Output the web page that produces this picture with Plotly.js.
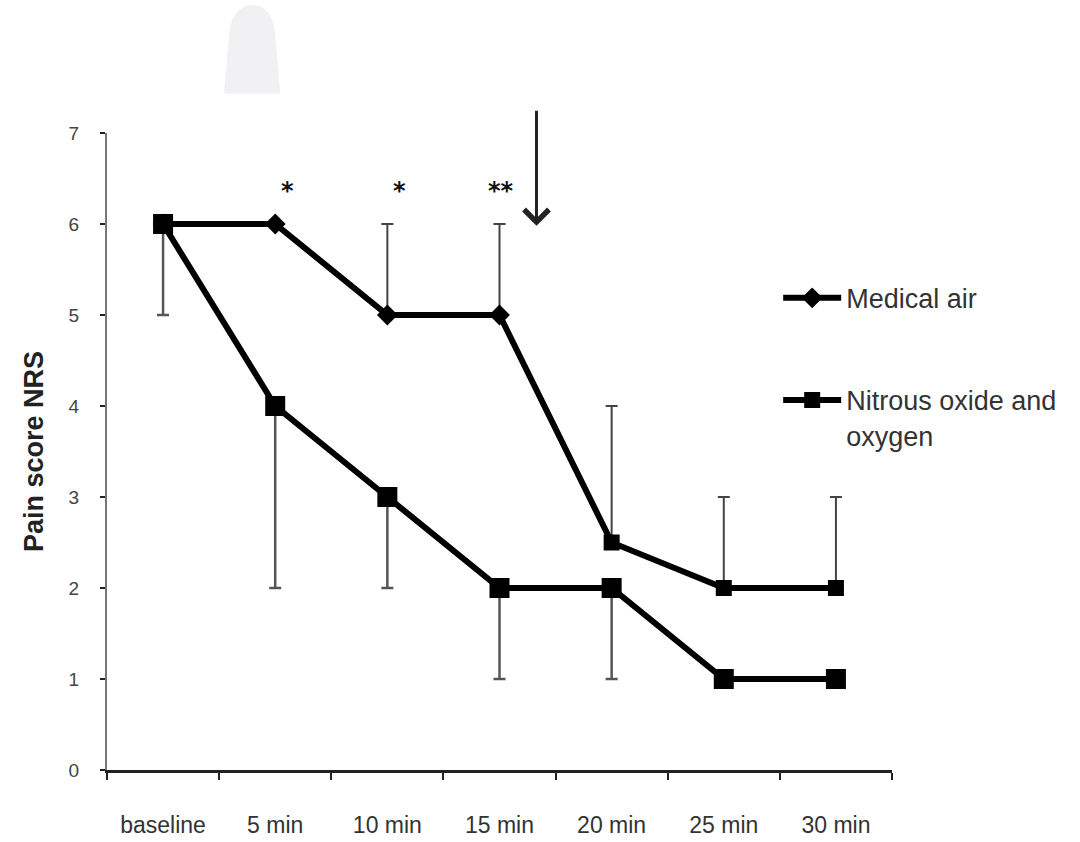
<!DOCTYPE html>
<html>
<head>
<meta charset="utf-8">
<script src="https://cdn.plot.ly/plotly-3.0.1.min.js"></script>
<style>
html,body{margin:0;padding:0;background:#fff;}
#chart{width:1080px;height:842px;}
</style>
</head>
<body>
<div id="chart"></div>
<script>
const categories = ["baseline", "5 min", "10 min", "15 min", "20 min", "25 min", "30 min"];
const medicalAir = [6, 6, 5, 5, 2.5, 2, 2];
const medicalAirErrUp = [0, 0, 1, 1, 1.5, 1, 1];
const nitrous = [6, 4, 3, 2, 2, 1, 1];
const nitrousErrDown = [1, 2, 1, 1, 1, 0, 0];
const medicalAirSymbols = ["diamond", "diamond", "diamond", "diamond", "square", "square", "square"];
const yTicks = [0, 1, 2, 3, 4, 5, 6, 7];
const significance = [
  {cat: "5 min", text: "*"},
  {cat: "10 min", text: "*"},
  {cat: "15 min", text: "**"}
];

const sans = "Liberation Sans, Arial, sans-serif";

const traces = [
  {
    x: categories, y: medicalAir, name: "Medical air", type: "scatter", mode: "lines+markers",
    legendgroup: "a",
    line: {color: "#000", width: 6},
    marker: {symbol: medicalAirSymbols, size: 16, color: "#000"},
    error_y: {type: "data", symmetric: false, array: medicalAirErrUp, arrayminus: medicalAirErrUp.map(() => 0),
              color: "#444", thickness: 2, width: 6},
    cliponaxis: false
  },
  {
    x: categories, y: nitrous, name: "Nitrous oxide and<br>oxygen", type: "scatter", mode: "lines+markers",
    legendgroup: "b",
    line: {color: "#000", width: 6},
    marker: {symbol: "square", size: 20, color: "#000"},
    error_y: {type: "data", symmetric: false, array: nitrousErrDown.map(() => 0), arrayminus: nitrousErrDown,
              color: "#555", thickness: 2.5, width: 6},
    cliponaxis: false
  }
];

const annotations = significance.map(s => ({
  x: s.cat, y: 6.36, xref: "x", yref: "y", text: "<b>" + s.text + "</b>", showarrow: false,
  xshift: s.text === "*" ? 12 : 1,
  font: {family: "DejaVu Sans, sans-serif", size: 24, color: "#111"}
}));
annotations.push({
  x: 3.33, y: 5.98, xref: "x", yref: "y", ax: 3.33, ay: 7.26, axref: "x", ayref: "y",
  showarrow: true, arrowhead: 4, arrowsize: 1.6, arrowwidth: 3, arrowcolor: "#222", text: ""
});

const layout = {
  width: 1080, height: 842,
  paper_bgcolor: "#fff", plot_bgcolor: "#fff",
  margin: {l: 107, r: 188, t: 133, b: 72},
  showlegend: true,
  legend: {
    x: 0.855, y: 0.779, xanchor: "left", yanchor: "top",
    itemwidth: 58, valign: "top",
    font: {family: sans, size: 27, color: "#333"},
    tracegroupgap: 64, bgcolor: "rgba(0,0,0,0)"
  },
  xaxis: {
    type: "category", categoryorder: "array", categoryarray: categories,
    range: [-0.5, 6.5], tickson: "boundaries",
    showline: true, linecolor: "#222", linewidth: 3,
    ticks: "outside", ticklen: 7, tickwidth: 2, tickcolor: "#222",
    showgrid: false, zeroline: false,
    ticklabelstandoff: 32,
    tickfont: {family: sans, size: 23, color: "#333"}
  },
  yaxis: {
    range: [0, 7], tickvals: yTicks, ticktext: yTicks.map(String),
    showline: true, linecolor: "#777", linewidth: 2,
    ticks: "outside", ticklen: 5, tickwidth: 2, tickcolor: "#222",
    showgrid: false, zeroline: false,
    ticklabelstandoff: 17,
    tickfont: {family: sans, size: 19, color: "#444"},
    title: {text: "<b>Pain score NRS</b>", standoff: 17,
            font: {family: sans, size: 27, color: "#222"}}
  },
  annotations: annotations,
  shapes: [{
    type: "path", xref: "paper", yref: "paper", layer: "below",
    path: "M 0.149 1.062 L 0.156 1.16 C 0.162 1.215 0.209 1.215 0.214 1.16 L 0.2205 1.062 Z",
    fillcolor: "#f1f1f3", line: {width: 0}
  }]
};

Plotly.newPlot("chart", traces, layout, {displayModeBar: false, staticPlot: true});
</script>
</body>
</html>
